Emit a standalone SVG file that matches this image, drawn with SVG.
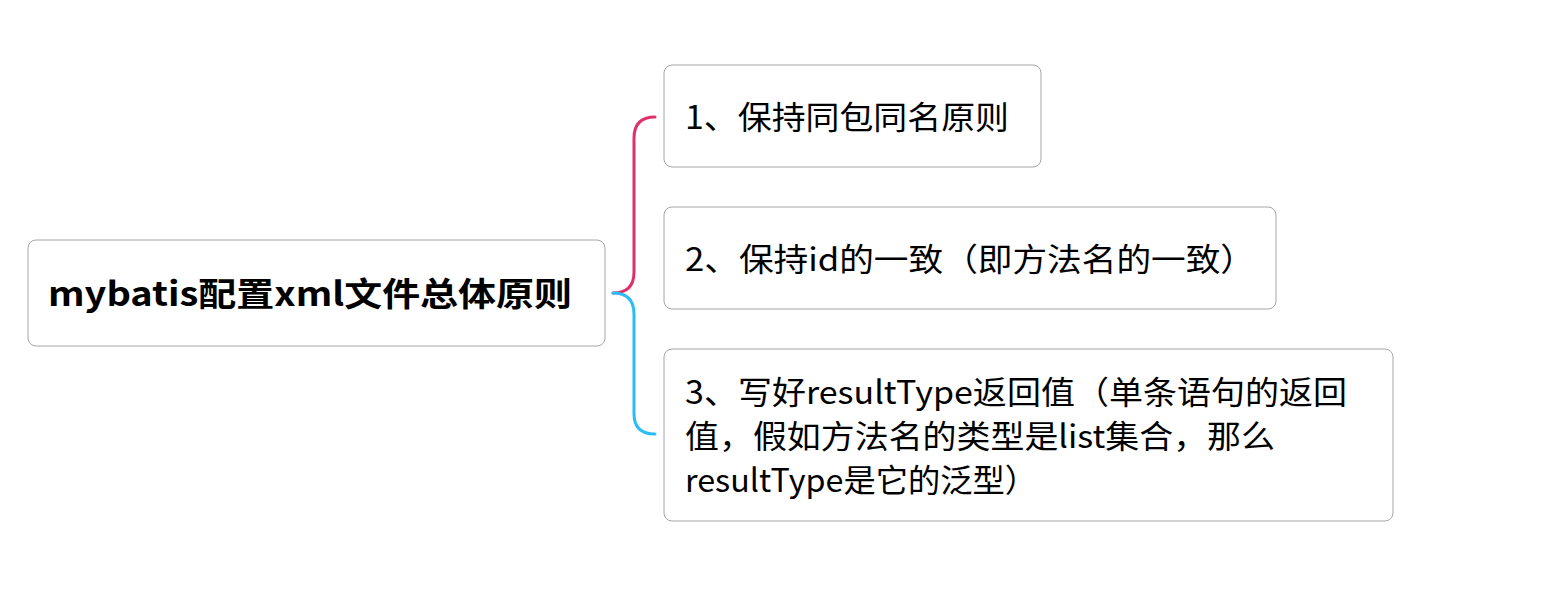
<svg xmlns="http://www.w3.org/2000/svg" width="1557" height="593" viewBox="0 0 1557 593">
<style>
.box{fill:#ffffff;stroke:#a6a6a6;stroke-width:1}
.t{font-family:"Microsoft YaHei","Noto Sans CJK SC","Noto Sans",sans-serif;font-size:32px;fill:#000000}
.root{font-family:"Microsoft YaHei","Noto Sans CJK SC","Noto Sans",sans-serif;font-size:33px;font-weight:bold;fill:#000000}
.c{fill:none;stroke-width:3;stroke-linecap:round}
</style>
<rect width="1557" height="593" fill="#ffffff"/>
<g id="connectors">
<path class="c" stroke="#e0306b" d="M613,293 Q634,293 634,272 L634,138 Q634,117 655,117"/>
<path class="c" stroke="#2cbcf6" d="M613,293 Q634,293 634,314 L634,414 Q634,434 655,434"/>
</g>
<g id="root">
<rect class="box" x="28" y="240" width="577" height="106" rx="8"/>
<text class="root" x="48" y="306" textLength="524" lengthAdjust="spacingAndGlyphs">mybatis配置xml文件总体原则</text>
</g>
<g id="n1">
<rect class="box" x="664" y="65" width="377" height="102" rx="8"/>
<text class="t" x="685" y="129" textLength="324" lengthAdjust="spacingAndGlyphs">1、保持同包同名原则</text>
</g>
<g id="n2">
<rect class="box" x="664" y="207" width="612" height="102" rx="8"/>
<text class="t" x="685" y="271" textLength="570" lengthAdjust="spacingAndGlyphs">2、保持id的一致（即方法名的一致）</text>
</g>
<g id="n3">
<rect class="box" x="664" y="349" width="729" height="172" rx="8"/>
<text class="t" x="685" y="404" textLength="662" lengthAdjust="spacingAndGlyphs">3、写好resultType返回值（单条语句的返回</text>
<text class="t" x="685" y="448" textLength="590" lengthAdjust="spacingAndGlyphs">值，假如方法名的类型是list集合，那么</text>
<text class="t" x="685" y="492" textLength="352" lengthAdjust="spacingAndGlyphs">resultType是它的泛型）</text>
</g>
</svg>
